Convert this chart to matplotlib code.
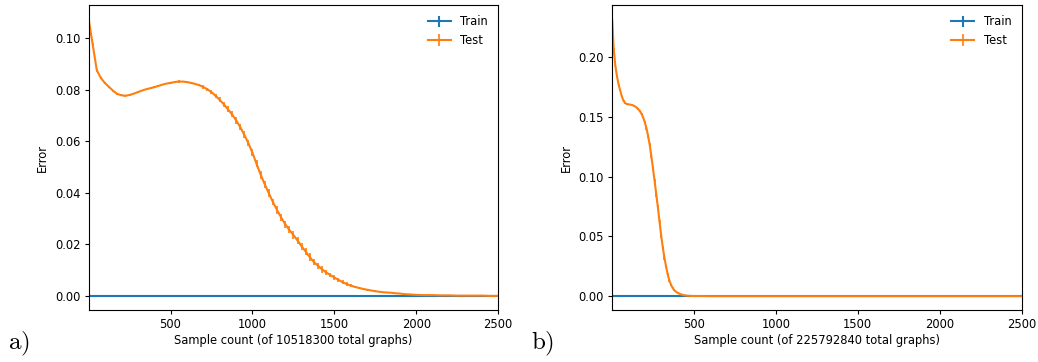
import matplotlib as mpl
mpl.use('Agg')
import matplotlib.pyplot as plt

plt.rcParams['mathtext.fontset'] = 'cm'
plt.rcParams['font.size'] = 8.3

# panel a) - 10518300 total graphs
a_x = [1, 25, 50, 75, 100, 125, 150, 175, 200, 225, 250, 275, 300, 325, 350, 375,
       400, 425, 450, 475, 500, 525, 550, 575, 600, 625, 650, 675, 700, 725, 750,
       775, 800, 825, 850, 875, 900, 925, 950, 975, 1000, 1025, 1050, 1075, 1100,
       1125, 1150, 1175, 1200, 1225, 1250, 1275, 1300, 1325, 1350, 1375, 1400,
       1425, 1450, 1475, 1500, 1525, 1550, 1575, 1600, 1625, 1650, 1675, 1700,
       1725, 1750, 1775, 1800, 1825, 1850, 1875, 1900, 1925, 1950, 1975, 2000,
       2050, 2100, 2150, 2200, 2250, 2300, 2350, 2400, 2450, 2500]
a_test = [0.1070, 0.0975, 0.0875, 0.0845, 0.0825, 0.0810, 0.0795, 0.0783, 0.0778,
          0.0776, 0.0779, 0.0784, 0.0790, 0.0796, 0.0801, 0.0805, 0.0809, 0.0814,
          0.0819, 0.0823, 0.0826, 0.0829, 0.0831, 0.0831, 0.0829, 0.0826, 0.0822,
          0.0817, 0.0810, 0.0801, 0.0790, 0.0776, 0.0760, 0.0743, 0.0724, 0.0704,
          0.0681, 0.0655, 0.0625, 0.0592, 0.0555, 0.0512, 0.0470, 0.0433, 0.0398,
          0.0364, 0.0333, 0.0304, 0.0278, 0.0256, 0.0236, 0.0215, 0.0192, 0.0172,
          0.0150, 0.0131, 0.0117, 0.0103, 0.0091, 0.0081, 0.0071, 0.0062, 0.0053,
          0.0046, 0.0040, 0.0035, 0.0031, 0.0027, 0.0024, 0.0021, 0.0018, 0.0016,
          0.0014, 0.0013, 0.0012, 0.0010, 0.0009, 0.0007, 0.0006, 0.0005, 0.0004,
          0.0003, 0.0003, 0.0002, 0.0002, 0.0001, 0.0001, 0.0001, 0.0001, 0.0000,
          0.0000]
a_test_err = [0.0004, 0.0004, 0.0006, 0.0004, 0.0003, 0.0003, 0.0004, 0.0003, 0.0003,
              0.0003, 0.0003, 0.0003, 0.0003, 0.0003, 0.0003, 0.0003, 0.0003, 0.0003,
              0.0003, 0.0003, 0.0003, 0.0003, 0.0006, 0.0003, 0.0003, 0.0004, 0.0005,
              0.0005, 0.0006, 0.0007, 0.0009, 0.0008, 0.0010, 0.0009, 0.0011, 0.0012,
              0.0013, 0.0011, 0.0013, 0.0012, 0.0014, 0.0013, 0.0015, 0.0013, 0.0015,
              0.0013, 0.0014, 0.0015, 0.0013, 0.0014, 0.0015, 0.0013, 0.0015, 0.0014,
              0.0015, 0.0013, 0.0012, 0.0013, 0.0010, 0.0009, 0.0009, 0.0008, 0.0008,
              0.0006, 0.0006, 0.0005, 0.0005, 0.0004, 0.0004, 0.0003, 0.0003, 0.0002,
              0.0002, 0.0002, 0.0002, 0.0001, 0.0001, 0.0001, 0.0001, 0.0001, 0.0001,
              0.0001, 0.0001, 0.0001, 0.0001, 0.0001, 0.0001, 0.0001, 0.0001, 0.0001,
              0.0001]
a_train = [0.0] * len(a_x)

# panel b) - 225792840 total graphs
b_x = [1, 10, 20, 30, 40, 50, 60, 70, 80, 90, 100, 110, 120, 130, 140, 150, 160,
       170, 180, 190, 200, 210, 220, 230, 240, 250, 260, 270, 280, 290, 300, 310,
       320, 330, 340, 350, 360, 370, 380, 390, 400, 420, 440, 460, 480, 500, 550,
       600, 700, 800, 900, 1000, 1100, 1200, 1300, 1400, 1500, 1600, 1700, 1800,
       1900, 2000, 2100, 2200, 2300, 2400, 2500]
b_test = [0.2310, 0.2070, 0.1930, 0.1840, 0.1770, 0.1720, 0.1670, 0.1635, 0.1615,
          0.1608, 0.1605, 0.1603, 0.1600, 0.1595, 0.1588, 0.1578, 0.1565, 0.1548,
          0.1525, 0.1495, 0.1455, 0.1405, 0.1340, 0.1265, 0.1170, 0.1065, 0.0960,
          0.0850, 0.0740, 0.0620, 0.0505, 0.0405, 0.0320, 0.0245, 0.0180, 0.0130,
          0.0095, 0.0068, 0.0050, 0.0037, 0.0028, 0.0015, 0.0008, 0.0004, 0.0002,
          0.0001, 0.0001, 0.0000, 0.0000, 0.0000, 0.0000, 0.0000, 0.0000, 0.0000,
          0.0000, 0.0000, 0.0000, 0.0000, 0.0000, 0.0000, 0.0000, 0.0000, 0.0000,
          0.0000, 0.0000, 0.0000, 0.0000]
b_test_err = [0.0010, 0.0010, 0.0008, 0.0008, 0.0006, 0.0006, 0.0006, 0.0005, 0.0005,
              0.0005, 0.0005, 0.0005, 0.0005, 0.0005, 0.0005, 0.0005, 0.0006, 0.0006,
              0.0007, 0.0008, 0.0010, 0.0012, 0.0014, 0.0016, 0.0018, 0.0020, 0.0022,
              0.0020, 0.0022, 0.0020, 0.0018, 0.0016, 0.0014, 0.0012, 0.0010, 0.0009,
              0.0008, 0.0007, 0.0006, 0.0005, 0.0004, 0.0003, 0.0002, 0.0001, 0.0001,
              0.0001, 0.0000, 0.0000, 0.0000, 0.0000, 0.0000, 0.0000, 0.0000, 0.0000,
              0.0000, 0.0000, 0.0000, 0.0000, 0.0000, 0.0000, 0.0000, 0.0000, 0.0000,
              0.0000, 0.0000, 0.0000, 0.0000]
b_train = [0.0] * len(b_x)

panels = [
    ("a)", "Sample count (of 10518300 total graphs)", a_x, a_train, a_test, a_test_err),
    ("b)", "Sample count (of 225792840 total graphs)", b_x, b_train, b_test, b_test_err),
]

fig = plt.figure(figsize=(10.38, 3.62), dpi=100)
lefts = [0.0855, 0.5898]
for i, (tag, xlabel, xs, train, test, err) in enumerate(panels):
    ax = fig.add_axes([lefts[i], 0.1436, 0.3945, 0.8425])
    ax.errorbar(xs, train, yerr=[0.0] * len(xs), label="Train", color='#1f77b4', linewidth=1.5)
    ax.errorbar(xs, test, yerr=err, label="Test", color='#ff7f0e', linewidth=1.5, elinewidth=1.2)
    ax.set_xlim(1, 2500)
    ax.set_xticks([500, 1000, 1500, 2000, 2500])
    ax.set_xlabel(xlabel, labelpad=2)
    ax.set_ylabel("Error")
    ax.tick_params(length=3, pad=3)
    ax.legend(loc='upper right', frameon=False)
    fig.text(lefts[i] - 0.078, 0.012, r'$\mathrm{' + tag + '}$', fontsize=18, va='bottom')

plt.savefig('out.png', dpi=100)
